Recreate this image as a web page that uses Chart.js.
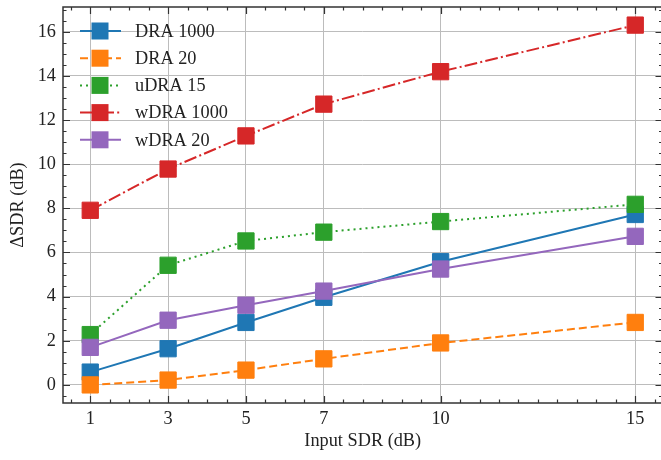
<!DOCTYPE html>
<html>
<head>
<meta charset="utf-8">
<script src="https://cdn.jsdelivr.net/npm/chart.js@4.4.1/dist/chart.umd.min.js"></script>
<style>
  html, body { margin: 0; padding: 0; background: #fff; overflow: hidden; }
  canvas { display: block; }
</style>
</head>
<body>
<canvas id="myChartSdr" width="666" height="460"></canvas>
<script>
//? Données du graphique.

const valeursX = [1, 3, 5, 7, 10, 15];
const ticksX = [1, 3, 5, 7, 10, 15];
const ticksY = [0, 2, 4, 6, 8, 10, 12, 14, 16];

const nomsSeries = ["DRA 1000", "DRA 20", "uDRA 15", "wDRA 1000", "wDRA 20"];
const dra1000 = [0.58, 1.64, 2.83, 3.97, 5.58, 7.72];
const dra20 = [0.0, 0.22, 0.67, 1.18, 1.9, 2.83];
const udra15 = [2.28, 5.42, 6.52, 6.92, 7.4, 8.18];
const wdra1000 = [7.91, 9.78, 11.28, 12.72, 14.19, 16.3];
const wdra20 = [1.7, 2.93, 3.61, 4.25, 5.25, 6.73];

const couleurs = ["#1f77b4", "#ff7f0e", "#2ca02c", "#d62728", "#9467bd"];
const tirets = [[], [8, 4], [2, 4], [12.8, 3.2, 2, 3.2], []];

const policeSerif = "'Liberation Serif', 'DejaVu Serif', serif";
const taillePolice = 18.3;

//? -------------------------------------------------

//? Construction des datasets.

const toutesLesSeries = [dra1000, dra20, udra15, wdra1000, wdra20];

const datasets = toutesLesSeries.map((serie, i) => ({
  label: nomsSeries[i],
  data: serie.map((v, j) => ({ x: valeursX[j], y: v })),
  borderColor: couleurs[i],
  backgroundColor: couleurs[i],
  borderWidth: 2,
  borderDash: tirets[i],
  borderCapStyle: "butt",
  pointStyle: "rect",
  pointRadius: 11.5,
  pointHoverRadius: 11.5,
  pointBorderWidth: 1,
  pointBackgroundColor: couleurs[i],
  pointBorderColor: couleurs[i],
  tension: 0,
  order: toutesLesSeries.length - i,
}));

//? -------------------------------------------------

//? Ticks vers l'intérieur + cadre (style matplotlib).

const pluginTicksInterieurs = {
  id: "ticksInterieurs",
  afterDraw(chart) {
    const { ctx, chartArea, scales } = chart;
    const { left, right, top, bottom } = chartArea;
    const x = scales.x;
    const y = scales.y;
    ctx.save();
    ctx.strokeStyle = "#333";
    ctx.lineWidth = 1.2;
    ctx.beginPath();

    for (let v = 0.5; v <= x.max; v += 0.5) {
      const px = Math.round(x.getPixelForValue(v)) + 0.5;
      const longueur = ticksX.includes(v) ? 7 : 3.5;
      ctx.moveTo(px, bottom);
      ctx.lineTo(px, bottom - longueur);
      ctx.moveTo(px, top);
      ctx.lineTo(px, top + longueur);
    }

    for (let v = -0.5; v <= y.max; v += 0.5) {
      const py = Math.round(y.getPixelForValue(v)) + 0.5;
      const longueur = ticksY.includes(v) ? 7 : 3.5;
      ctx.moveTo(left, py);
      ctx.lineTo(left + longueur, py);
      ctx.moveTo(right, py);
      ctx.lineTo(right - longueur, py);
    }
    ctx.stroke();

    ctx.lineWidth = 1.5;
    ctx.strokeRect(left, top, right - left, bottom - top);
    ctx.restore();
  },
};

//? -------------------------------------------------

//? Légende : trait + carré, sans cadre.

const pluginLegende = {
  id: "legendeSdr",
  afterDraw(chart) {
    const { ctx } = chart;
    ctx.save();
    chart.data.datasets.forEach((ds, i) => {
      const yLigne = 31 + i * 27.2;
      ctx.strokeStyle = ds.borderColor;
      ctx.lineWidth = 2;
      ctx.lineCap = "butt";
      ctx.setLineDash(ds.borderDash);
      ctx.beginPath();
      ctx.moveTo(80, yLigne);
      ctx.lineTo(121, yLigne);
      ctx.stroke();
      ctx.setLineDash([]);

      ctx.fillStyle = ds.pointBackgroundColor;
      ctx.fillRect(91.5, yLigne - 8.5, 17, 17);

      ctx.fillStyle = "#222";
      ctx.font = taillePolice + "px " + policeSerif;
      ctx.textBaseline = "middle";
      ctx.textAlign = "left";
      ctx.fillText(ds.label, 135, yLigne + 1);
    });
    ctx.restore();
  },
};

//? -------------------------------------------------

//? Construction du graphique.

const constructionDuGraphiqueSdr = () => {
  try {
    Chart.defaults.font.family = policeSerif;
    Chart.defaults.font.size = taillePolice;
    Chart.defaults.color = "#222";

    const ctxSdr = document.getElementById("myChartSdr").getContext("2d");

    const optionsSdr = {
      responsive: false,
      animation: { duration: 0 },
      layout: {
        autoPadding: false,
        padding: { top: 7, right: 3.5, left: 0, bottom: 0 },
      },
      plugins: {
        legend: { display: false },
        tooltip: { enabled: false },
      },
      scales: {
        x: {
          type: "linear",
          min: 0.3,
          max: 15.7,
          afterBuildTicks: (scale) => {
            scale.ticks = ticksX.map((v) => ({ value: v }));
          },
          afterFit: (scale) => {
            scale.height = 57;
            scale.paddingLeft = 0;
            scale.paddingRight = 0;
          },
          ticks: { padding: 5, maxRotation: 0, autoSkip: false },
          grid: { color: "#bcbcbc", lineWidth: 1, drawTicks: false },
          border: { display: false },
          title: {
            display: true,
            text: "Input SDR (dB)",
            padding: { top: 0, bottom: 8 },
          },
        },
        y: {
          type: "linear",
          min: -0.82,
          max: 17.12,
          afterBuildTicks: (scale) => {
            scale.ticks = ticksY.map((v) => ({ value: v }));
          },
          afterFit: (scale) => {
            scale.width = 63;
            scale.paddingTop = 0;
            scale.paddingBottom = 0;
          },
          ticks: { padding: 7, autoSkip: false },
          grid: { color: "#bcbcbc", lineWidth: 1, drawTicks: false },
          border: { display: false },
          title: {
            display: true,
            text: "ΔSDR (dB)",
            padding: { top: 7, bottom: 0 },
          },
        },
      },
    };

    new Chart(ctxSdr, {
      type: "line",
      data: { datasets },
      options: optionsSdr,
      plugins: [pluginTicksInterieurs, pluginLegende],
    });
  } catch (error) {
    console.log("🔴 ERREUR | Construction graphique :", error);
  }
};

constructionDuGraphiqueSdr();
</script>
</body>
</html>
